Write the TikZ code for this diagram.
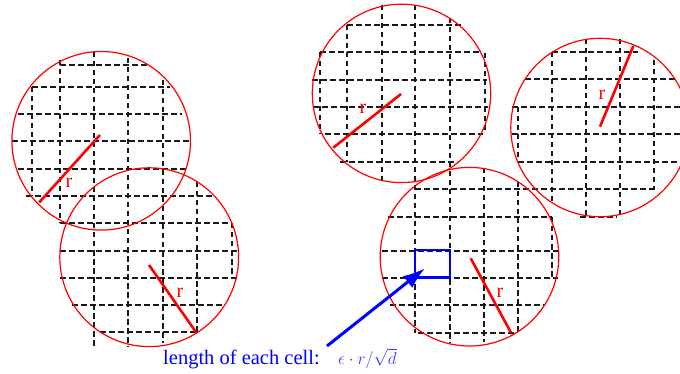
\documentclass[tikz,border=0pt]{standalone}
\usepackage{fontspec}
\setmainfont{Liberation Serif}
\usetikzlibrary{arrows.meta}
\tikzset{
  gridline/.style={draw=black!90, line width=1.2pt, dash pattern=on 5.5pt off 3.5pt},
  circ/.style={draw=red, line width=1.2pt},
  radline/.style={draw=red, line width=2.6pt},
  rlabel/.style={text=red, font=\fontsize{20}{22}\selectfont, inner sep=0pt},
  bluebox/.style={draw=blue, line width=2.6pt},
  bluearrow/.style={draw=blue, line width=3pt, -{Latex[length=22pt,width=15pt]}},
}
\begin{document}
\begin{tikzpicture}[x=1pt,y=-1pt]
\useasboundingbox (0,0) rectangle (680,374);
\clip (0,0) rectangle (680,374);
% horizontal grid segments: y/x1/x2
\foreach \yy/\xa/\xb in {
  65/60/147, 87/32/170, 114/18/182, 141/12/190, 169/18/188, 196/26/213,
  223/60/232, 251/60/238, 278/60/238, 305/72/223, 332/100/197,
  25/347/462, 52/320/481, 52/552/638, 80/312/487, 79/525/675,
  107/313/488, 107/512/680, 134/325/483, 134/512/680, 162/340/457,
  162/518/680, 189/415/658, 217/388/552, 217/580/617, 251/382/558,
  278/382/558, 305/390/545, 333/418/515}
  \draw[gridline] (\xa,\yy) -- (\xb,\yy);
% vertical grid segments: x/y1/y2
\foreach \xx/\ya/\yb in {
  32/87/196, 60/60/223, 94/52/347, 128/58/347, 163/80/343, 197/182/332,
  232/223/278, 320/52/134, 347/25/162, 382/5/182, 415/5/333, 450/18/343,
  485/53/133, 484/168/342, 518/107/162, 518/182/333, 552/52/202,
  552/217/278, 586/39/217, 620/39/217, 654/60/189}
  \draw[gridline] (\xx,\ya) -- (\xx,\yb);
% circles
\draw[circ] (101.2,140.8) circle[radius=89.3pt];
\draw[circ] (149.2,257.2) circle[radius=89.4pt];
\draw[circ] (401.5,93.4) circle[radius=89.2pt];
\draw[circ] (600,127.5) circle[radius=89.2pt];
\draw[circ] (469.5,256.7) circle[radius=89.3pt];
% radii
\coordinate (c1) at (100,135);   \coordinate (e1) at (39.3,202.3);
\coordinate (c2) at (149,265);   \coordinate (e2) at (195.7,331.7);
\coordinate (c3) at (401,94);    \coordinate (e3) at (333.3,147.7);
\coordinate (c4) at (600,126.7); \coordinate (e4) at (633.3,46);
\coordinate (c5) at (470.7,258.3); \coordinate (e5) at (511,332.7);
\draw[radline] (c1) -- (e1);
\draw[radline] (c2) -- (e2);
\draw[radline] (c3) -- (e3);
\draw[radline] (c4) -- (e4);
\draw[radline] (c5) -- (e5);
\node[rlabel] (r1) at (69,183) {r};
\node[rlabel] (r2) at (180,293) {r};
\node[rlabel] (r3) at (363,109) {r};
\node[rlabel] (r4) at (602,95) {r};
\node[rlabel] (r5) at (500,293) {r};
% blue cell and arrow
\draw[bluebox] (415,250) rectangle (450,277.7);
\coordinate (cell) at (425,268.3);
\coordinate (tail) at (327,346);
\draw[bluearrow] (tail) -- (cell);
\node[anchor=base west, inner sep=0pt, text=blue, font=\fontsize{20.5}{24}\selectfont] (txt) at (163,364) {length of each cell:};
\node[anchor=base west, inner sep=0pt, text={rgb,255:red,60;green,60;blue,245}, font=\fontsize{18}{21}\selectfont] (mth) at (338,364.5) {$\epsilon\cdot r/\sqrt{d}$};
\end{tikzpicture}
\end{document}
